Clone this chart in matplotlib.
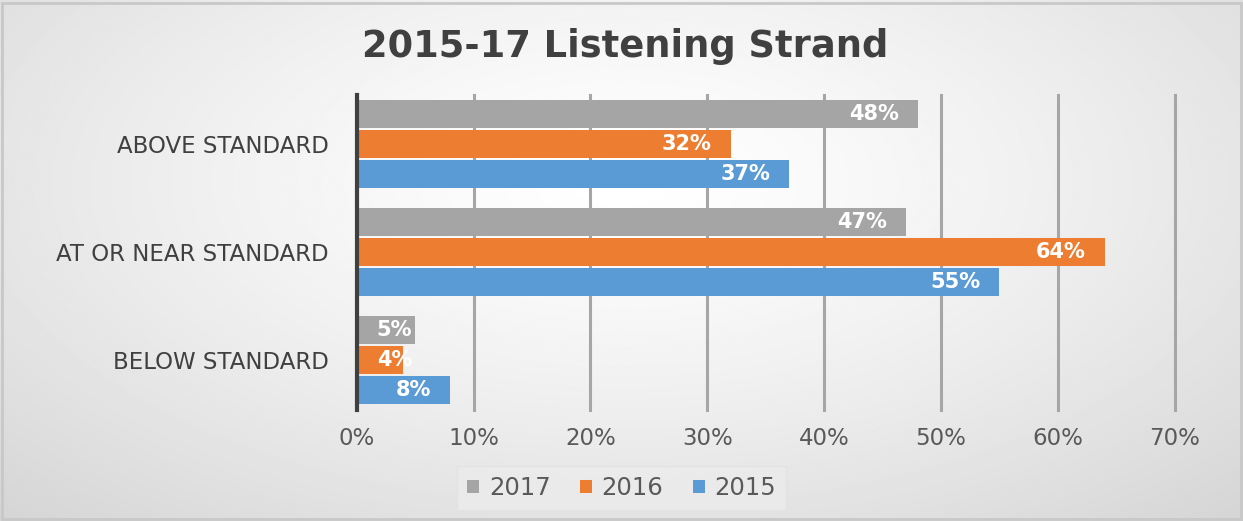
import numpy as np
import matplotlib
matplotlib.use("Agg")
import matplotlib.pyplot as plt
from matplotlib.patches import Rectangle
from matplotlib.transforms import offset_copy

categories = ["ABOVE STANDARD", "AT OR NEAR STANDARD", "BELOW STANDARD"]
series_names = ["2017", "2016", "2015"]
v2017 = [48, 47, 5]
v2016 = [32, 64, 4]
v2015 = [37, 55, 8]
values = [v2017, v2016, v2015]
colors = ["#A5A5A5", "#ED7D31", "#5B9BD5"]
xticks = [0, 10, 20, 30, 40, 50, 60, 70]

plt.rcParams['font.family'] = ['DejaVu Sans']

fig = plt.figure(figsize=(12.43, 5.21), dpi=100)

# background radial gradient
bg = fig.add_axes([0, 0, 1, 1], zorder=-10)
yy, xx = np.mgrid[0:1:300j, 0:1:700j]
r = np.sqrt(((xx - 0.5) / 0.75) ** 2 + ((yy - 0.35) / 0.9) ** 2)
shade = 1.0 - 0.17 * np.clip(r, 0, 1) ** 1.3
bg.imshow(shade, cmap='gray', vmin=0, vmax=1, aspect='auto', extent=[0, 1, 0, 1], origin='upper')
bg.add_patch(Rectangle((0.002, 0.004), 0.996, 0.99, fill=False, edgecolor='#c8c8c8', lw=2, transform=bg.transAxes))
bg.set_axis_off()

ax_rect = [0.287, 0.213, 0.658, 0.605]
ax = fig.add_axes(ax_rect)
ax.set_facecolor('none')
xmax = 70
px_per_unit = ax_rect[2] * fig.get_figwidth() * fig.dpi / xmax

bar_h = 0.26
step = 0.278
y = np.arange(len(categories))
label_w = 40  # approx label width in px
for i, (vals, col, name) in enumerate(zip(values, colors, series_names)):
    pos = y + (i - 1) * step
    ax.barh(pos, vals, height=bar_h, color=col, label=name, zorder=3)
    for p, v in zip(pos, vals):
        if v * px_per_unit - 19 - label_w < 21:
            tr = offset_copy(ax.transData, fig=fig, x=20, y=0, units='dots')
            ax.text(0, p, f"{v}%", transform=tr, ha='left', va='center',
                    color='white', fontsize=15, fontweight='bold', zorder=4)
        else:
            tr = offset_copy(ax.transData, fig=fig, x=-19, y=0, units='dots')
            ax.text(v, p, f"{v}%", transform=tr, ha='right', va='center',
                    color='white', fontsize=15, fontweight='bold', zorder=4)

ax.set_xlim(0, xmax)
ax.set_ylim(2.463, -0.454)
ax.set_xticks(xticks)
ax.set_xticklabels([f"{t}%" for t in xticks], fontsize=16.5, color='#595959')
ax.set_yticks(y)
ax.set_yticklabels(categories, fontsize=16.5, color='#404040')
ax.tick_params(axis='both', length=0)
ax.tick_params(axis='x', pad=12)
ax.tick_params(axis='y', pad=20)
ax.grid(axis='x', color='#a6a6a6', lw=2.2, zorder=0)
for gl in ax.get_xgridlines():
    gl.set_clip_on(False)
for s in ['top', 'right', 'bottom']:
    ax.spines[s].set_visible(False)
ax.spines['left'].set_color('#404040')
ax.spines['left'].set_linewidth(3)
ax.spines['left'].set_zorder(5)

fig.text(0.503, 0.91, "2015-17 Listening Strand", ha='center', va='center',
         fontsize=26.5, fontweight='bold', color='#404040')

leg = fig.legend(loc='center', bbox_to_anchor=(0.5, 0.063), ncol=3, fontsize=17.5,
                 frameon=True, handlelength=0.5, handleheight=0.5, handletextpad=0.4,
                 columnspacing=1.2, borderpad=0.4, borderaxespad=0, fancybox=False)
leg.get_frame().set_facecolor('#ececec')
leg.get_frame().set_edgecolor('#e2e2e2')
for t in leg.get_texts():
    t.set_color('#595959')

fig.savefig("out.png", dpi=100)
